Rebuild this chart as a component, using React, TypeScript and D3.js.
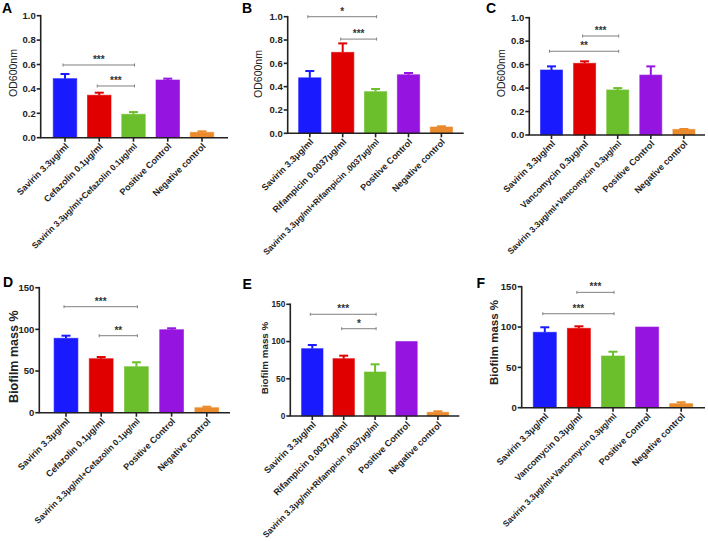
import React from "react";
import * as d3 from "d3";

// ---------- data ----------
const categoriesA = ["Savirin 3.3μg/ml", "Cefazolin 0.1μg/ml", "Savirin 3.3μg/ml+Cefazolin 0.1μg/ml", "Positive Control", "Negative control"];
const categoriesB = ["Savirin 3.3μg/ml", "Rifampicin 0.0037μg/ml", "Savirin 3.3μg/ml+Rifampicin .0037μg/ml", "Positive Control", "Negative control"];
const categoriesC = ["Savirin 3.3μg/ml", "Vancomycin 0.3μg/ml", "Savirin 3.3μg/ml+Vancomycin 0.3μg/ml", "Positive Control", "Negative control"];

const valuesA = [0.484, 0.348, 0.192, 0.473, 0.044];
const semA = [0.038, 0.021, 0.018, 0.011, 0.008];
const valuesB = [0.476, 0.694, 0.357, 0.502, 0.054];
const semB = [0.058, 0.077, 0.023, 0.015, 0.006];
const valuesC = [0.554, 0.611, 0.384, 0.511, 0.048];
const semC = [0.031, 0.017, 0.016, 0.074, 0.003];
const valuesD = [89.3, 64.8, 55.2, 99.6, 6.0];
const semD = [3.1, 2.0, 5.3, 1.7, 1.2];
const valuesE = [90.4, 77.0, 59.1, 100, 5.0];
const semE = [4.9, 4.0, 10.3, 0, 1.3];
const valuesF = [93.5, 98.4, 64.1, 100, 5.0];
const semF = [6.2, 2.5, 5.3, 0, 1.7];

const odTicks = [0, 0.2, 0.4, 0.6, 0.8, 1.0];
const massTicks = [0, 50, 100, 150];

// significance brackets: [fromIndex, toIndex, yValue, label]
const sigA: [number, number, number, string][] = [[0, 2, 0.596, "***"], [1, 2, 0.424, "***"]];
const sigB: [number, number, number, string][] = [[0, 2, 1.0, "*"], [1, 2, 0.808, "***"]];
const sigC: [number, number, number, string][] = [[1, 2, 0.844, "***"], [0, 2, 0.714, "**"]];
const sigD: [number, number, number, string][] = [[0, 2, 127.2, "***"], [1, 2, 92.4, "**"]];
const sigE: [number, number, number, string][] = [[0, 2, 136.6, "***"], [1, 2, 117.2, "*"]];
const sigF: [number, number, number, string][] = [[1, 2, 143, "***"], [0, 2, 116.5, "***"]];

const colors = ["#1a1aff", "#e00000", "#6cbf2c", "#9614e0", "#ea8a2c"];

const FONT = "'Liberation Sans', Arial, Helvetica, sans-serif";

type PanelProps = {
  letter: string;
  letterX: number;
  letterY: number;
  axisX: number;
  yTopPx: number;
  yBottomPx: number;
  xEnd: number;
  firstCenter: number;
  step: number;
  barW: number;
  yMax: number;
  ticks: number[];
  fmt: (v: number) => string;
  categories: string[];
  values: number[];
  sem: number[];
  sig: [number, number, number, string][];
  title: string;
  titleX: number;
  titleY: number;
  titleSize: number;
  titleBold: boolean;
  tickSize: number;
  labelSize: number;
};

function Panel(p: PanelProps) {
  const y = d3.scaleLinear().domain([0, p.yMax]).range([p.yBottomPx, p.yTopPx]);
  const r0 = p.firstCenter - p.step / 2;
  const r1 = p.firstCenter + (p.categories.length - 0.5) * p.step;
  const pad = 1 - p.barW / p.step;
  const x = d3
    .scaleBand<string>()
    .domain(p.categories)
    .range([r0, r1])
    .paddingInner(pad)
    .paddingOuter(pad / 2);
  const cx = (i: number) => (x(p.categories[i]) as number) + x.bandwidth() / 2;
  const axisColor = "#222";
  const capW = 9;
  return (
    <g>
      <text x={p.letterX} y={p.letterY} fontFamily={FONT} fontWeight="bold" fontSize={14} fill="#000">
        {p.letter}
      </text>
      {/* bars */}
      {p.categories.map((c, i) => {
        const top = y(p.values[i]);
        return (
          <g key={c}>
            <rect
              x={x(c)}
              y={top}
              width={x.bandwidth()}
              height={p.yBottomPx - top}
              fill={colors[i]}
              stroke={colors[i]}
              strokeOpacity={0.6}
              strokeWidth={1}
            />
            {p.sem[i] > 0 && (
              <g stroke={colors[i]} strokeWidth={2}>
                <line x1={cx(i)} x2={cx(i)} y1={top} y2={y(p.values[i] + p.sem[i])} />
                <line
                  x1={cx(i) - capW / 2}
                  x2={cx(i) + capW / 2}
                  y1={y(p.values[i] + p.sem[i])}
                  y2={y(p.values[i] + p.sem[i])}
                />
              </g>
            )}
          </g>
        );
      })}
      {/* y axis */}
      <line x1={p.axisX} x2={p.axisX} y1={p.yTopPx - 0.8} y2={p.yBottomPx} stroke={axisColor} strokeWidth={1.6} />
      {p.ticks.map((t) => (
        <g key={t}>
          <line x1={p.axisX - 4} x2={p.axisX} y1={y(t)} y2={y(t)} stroke={axisColor} strokeWidth={1.6} />
          <text
            x={p.axisX - 5}
            y={y(t)}
            dy="0.35em"
            textAnchor="end"
            fontFamily={FONT}
            fontWeight="bold"
            fontSize={p.tickSize}
            fill="#222"
          >
            {p.fmt(t)}
          </text>
        </g>
      ))}
      {/* x axis */}
      <line x1={p.axisX - 0.8} x2={p.xEnd} y1={p.yBottomPx} y2={p.yBottomPx} stroke={axisColor} strokeWidth={1.6} />
      {p.categories.map((c, i) => (
        <g key={c + "t"}>
          <line x1={cx(i)} x2={cx(i)} y1={p.yBottomPx} y2={p.yBottomPx + 4} stroke={axisColor} strokeWidth={1.6} />
          <text
            transform={`translate(${cx(i) + 2},${p.yBottomPx + 7}) rotate(-45)`}
            textAnchor="end"
            dy="0.35em"
            fontFamily={FONT}
            fontWeight="bold"
            fontSize={c.length > 25 ? p.labelSize - 0.5 : p.labelSize}
            fill="#222"
          >
            {c}
          </text>
        </g>
      ))}
      {/* significance */}
      {p.sig.map(([a, b, v, lab], k) => {
        const yy = y(v);
        const x1 = cx(a) - 2;
        const x2 = cx(b) + 1;
        return (
          <g key={"s" + k}>
            <g stroke="#808080" strokeWidth={1}>
              <line x1={x1} x2={x2} y1={yy} y2={yy} />
              <line x1={x1} x2={x1} y1={yy - 1.5} y2={yy + 1.5} />
              <line x1={x2} x2={x2} y1={yy - 1.5} y2={yy + 1.5} />
            </g>
            <text
              x={(x1 + x2) / 2}
              y={yy - 2}
              textAnchor="middle"
              fontFamily={FONT}
              fontWeight="bold"
              fontSize={10}
              fill="#333"
            >
              {lab}
            </text>
          </g>
        );
      })}
      {/* y title */}
      <text
        transform={`translate(${p.titleX},${p.titleY}) rotate(-90)`}
        textAnchor="middle"
        dy="0.35em"
        fontFamily={FONT}
        fontWeight={p.titleBold ? "bold" : "normal"}
        fontSize={p.titleSize}
        fill="#222"
      >
        {p.title}
      </text>
    </g>
  );
}

const f1 = d3.format(".1f");
const f0 = d3.format("d");

export default function App() {
  return (
    <div style={{ position: "absolute", left: 0, top: 0 }}>
      <svg width={708} height={541} style={{ display: "block", background: "#fff" }}>
        <Panel letter="A" letterX={2} letterY={13} axisX={40.7} yTopPx={15.7} yBottomPx={137.7} xEnd={228}
          firstCenter={65} step={34.25} barW={23.5} yMax={1.0} ticks={odTicks} fmt={f1}
          categories={categoriesA} values={valuesA} sem={semA} sig={sigA}
          title="OD600nm" titleX={13.3} titleY={73} titleSize={10.5} titleBold={false} tickSize={9.5} labelSize={9} />
        <Panel letter="B" letterX={242} letterY={13} axisX={287.7} yTopPx={16.7} yBottomPx={133.3} xEnd={463.7}
          firstCenter={309.8} step={32.9} barW={22.3} yMax={1.0} ticks={odTicks} fmt={f1}
          categories={categoriesB} values={valuesB} sem={semB} sig={sigB}
          title="OD600nm" titleX={258.5} titleY={74} titleSize={10.5} titleBold={false} tickSize={9.5} labelSize={9} />
        <Panel letter="C" letterX={486} letterY={13} axisX={529.3} yTopPx={17.7} yBottomPx={135} xEnd={705}
          firstCenter={551.5} step={33.1} barW={22} yMax={1.0} ticks={odTicks} fmt={f1}
          categories={categoriesC} values={valuesC} sem={semC} sig={sigC}
          title="OD600nm" titleX={501.7} titleY={73.3} titleSize={10.5} titleBold={false} tickSize={9.5} labelSize={9} />
        <Panel letter="D" letterX={3} letterY={287} axisX={39.3} yTopPx={287.7} yBottomPx={412.7} xEnd={230}
          firstCenter={66} step={35.2} barW={23.8} yMax={150} ticks={massTicks} fmt={f0}
          categories={categoriesA} values={valuesD} sem={semD} sig={sigD}
          title="Biofilm mass %" titleX={13.8} titleY={356.7} titleSize={12.5} titleBold={true} tickSize={9.5} labelSize={9} />
        <Panel letter="E" letterX={242.5} letterY={288.5} axisX={290.3} yTopPx={304.3} yBottomPx={416} xEnd={459.3}
          firstCenter={312.3} step={31.4} barW={21.4} yMax={150} ticks={massTicks} fmt={f0}
          categories={categoriesB} values={valuesE} sem={semE} sig={sigE}
          title="Biofilm mass %" titleX={264.3} titleY={358} titleSize={9.8} titleBold={true} tickSize={8.3} labelSize={9} />
        <Panel letter="F" letterX={476.5} letterY={288} axisX={521.7} yTopPx={286.7} yBottomPx={407.7} xEnd={705}
          firstCenter={544.8} step={34.1} barW={23} yMax={150} ticks={massTicks} fmt={f0}
          categories={categoriesC} values={valuesF} sem={semF} sig={sigF}
          title="Biofilm mass %" titleX={494} titleY={342.5} titleSize={11.5} titleBold={true} tickSize={9.5} labelSize={9} />
      </svg>
    </div>
  );
}
